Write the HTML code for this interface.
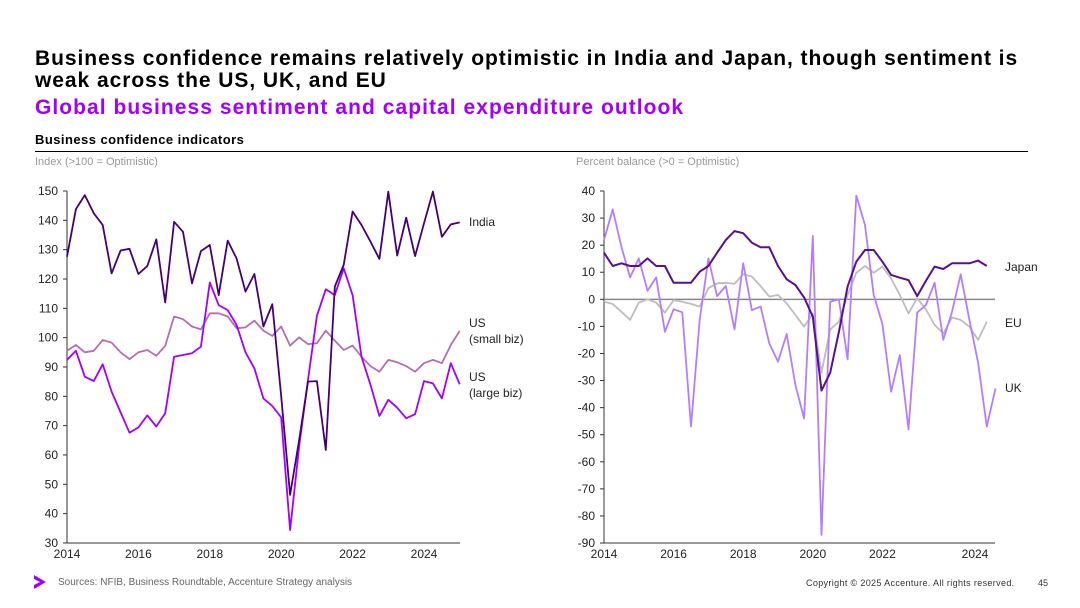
<!DOCTYPE html>
<html><head><meta charset="utf-8"><style>
body{margin:0;width:1080px;height:608px;background:#fff;font-family:"Liberation Sans",sans-serif;position:relative;overflow:hidden}
.t{position:absolute;white-space:nowrap}
</style></head><body>
<div class="t" style="left:35px;top:48px;font-size:21px;font-weight:bold;line-height:22px;color:#000;letter-spacing:0.95px">Business confidence remains relatively optimistic in India and Japan, though sentiment is<br>weak across the US, UK, and EU</div>
<div class="t" style="left:35px;top:96px;font-size:21px;font-weight:bold;color:#a100ff;letter-spacing:1.05px">Global business sentiment and capital expenditure outlook</div>
<div class="t" style="left:35px;top:132px;font-size:13px;font-weight:bold;color:#000;letter-spacing:0.45px">Business confidence indicators</div>
<div style="position:absolute;left:35px;top:151px;width:993px;height:1px;background:#000"></div>
<div class="t" style="left:35px;top:156px;font-size:11px;color:#999">Index (&gt;100 = Optimistic)</div>
<div class="t" style="left:576px;top:156px;font-size:11px;color:#999">Percent balance (&gt;0 = Optimistic)</div>
<svg id="c" width="1080" height="608" style="position:absolute;left:0;top:0"></svg>
<svg width="14" height="18" style="position:absolute;left:33px;top:574px"><path d="M1 1 L13 8 L1 15 L1 11 L7 8 L1 5Z" fill="#a100ff"/></svg>
<div class="t" style="left:58px;top:577px;font-size:10px;color:#666">Sources: NFIB, Business Roundtable, Accenture Strategy analysis</div>
<div class="t" style="left:806px;top:578px;font-size:9px;color:#333;letter-spacing:0.35px">Copyright © 2025 Accenture. All rights reserved.</div>
<div class="t" style="left:1038px;top:578px;font-size:9px;color:#333">45</div>
<script>
const india=[127.6,143.8,148.6,142.4,138.4,121.9,129.7,130.3,121.7,124.4,133.5,112,139.5,136.1,118.5,129.5,131.6,114.5,133.1,127,115.7,121.7,103.8,111.4,80,46.4,65,85,85.2,61.7,117.4,124.8,143,138.4,132.7,126.8,149.8,128,140.9,127.8,139,149.8,134.4,138.6,139.3];
const usSmall=[95.5,97.5,95,95.5,99.2,98.3,95,92.7,95,95.8,93.8,97.2,107.2,106.3,103.8,102.8,108.3,108.3,107.2,103.2,103.5,105.8,102.4,100.6,103.8,97.3,100.1,97.8,98.1,102.4,99,95.8,97.3,93.5,90.3,88.4,92.4,91.6,90.3,88.4,91.3,92.4,91.3,97.5,102.3];
const usLarge=[92.4,95.5,86.7,85.2,90.9,81.6,74.5,67.6,69.4,73.5,69.7,74.2,93.5,94.1,94.7,96.9,118.8,111.1,109.4,104.3,95,89.5,79.3,76.7,72.8,34.4,62.8,85.6,107.4,116.5,114.5,123.6,114.5,93.5,83.9,73.3,78.8,76.1,72.5,73.9,85.2,84.4,79.3,91.3,84.1];
const japan=[17.2,12.3,13.3,12.3,12.3,15.1,12.3,12.3,6.1,6.1,6.1,10.2,12.3,17.2,21.9,25.2,24.4,20.9,19.2,19.2,12.3,7.4,5.3,0.7,-6.4,-33.7,-27.1,-12,4.7,13.9,18.2,18.2,13.9,9,8,7.1,1.2,6.8,12.1,11.2,13.3,13.3,13.3,14.3,12.3];
const eu=[-0.9,-1.7,-4.6,-7.6,-1.2,0,-1.2,-4.9,-0.3,-0.9,-1.7,-2.7,4.1,5.9,6.1,5.7,9.3,8.4,4.9,1,1.6,-1.5,-5.8,-10.1,-5.2,-27.1,-11.1,-8.3,1.6,9.8,12.3,9.8,12.1,7.7,1.6,-5.2,0.4,-3.7,-9.5,-12.6,-6.7,-7.6,-10.1,-15,-8.3];
const uk=[21.9,33.2,19.4,8.1,15.1,3.2,8.1,-12,-3.7,-4.8,-47,-7.6,15.1,1.2,4.9,-11.1,13.3,-4,-2.7,-16.3,-23,-12.8,-31.6,-44,23.4,-87,-0.9,0,-22.2,38.3,27.4,1.6,-9.1,-34.1,-20.6,-48,-4.9,-2.1,6.1,-15,-4.6,9.2,-7.6,-23.4,-47,-32.9];
const leftTicks=[30,40,50,60,70,80,90,100,110,120,130,140,150];
const rightTicks=[-90,-80,-70,-60,-50,-40,-30,-20,-10,0,10,20,30,40];
const leftYears=[2014,2016,2018,2020,2022,2024];
const rightYears=[2014,2016,2018,2020,2022,2024];
const NS='http://www.w3.org/2000/svg';
const svg=document.getElementById('c');
function mk(tag,attrs,name,txt){const e=document.createElementNS(NS,tag);for(const k in attrs)e.setAttribute(k,attrs[k]);


if(txt!==undefined)e.textContent=txt;svg.appendChild(e);return e;}
const lx=y=>67+(y-2014)*35.7, ly=v=>191+(150-v)*2.933;
const rx=y=>604+(y-2014)*34.8, ry=v=>191+(40-v)*2.708;
function axis(x0,x1,yf,ticks,xf,years,pre,labOff){
 mk('line',{x1:x0,y1:191,x2:x0,y2:543,stroke:'#333','stroke-width':1},pre+'-y-axis');
 mk('line',{x1:x0,y1:543,x2:x1,y2:543,stroke:'#333','stroke-width':1},pre+'-x-axis');
 ticks.forEach(t=>{const y=yf(t);mk('line',{x1:x0-4,y1:y,x2:x0,y2:y,stroke:'#333'},pre+'-y-tick');
  mk('text',{x:x0-9,y:y+4,'text-anchor':'end','font-size':12,fill:'#222','font-family':'Liberation Sans'},pre+'-y-tick-label',String(t));});
 years.forEach((yr,i)=>{mk('text',{x:xf(yr)+(labOff?labOff[i]:0),y:558,'text-anchor':'middle','font-size':12,fill:'#222','font-family':'Liberation Sans'},pre+'-x-tick-label',String(yr));});
}
axis(67,460,ly,leftTicks,lx,leftYears,'left');
axis(604,995,ry,rightTicks,rx,rightYears,'right',[0,0,0,0,0,23]);
mk('line',{x1:604,y1:ry(0),x2:995,y2:ry(0),stroke:'#888','stroke-width':1.5},'zero-line');
function line(data,xf,yf,color,name,w){const d=data.map((v,i)=>(i?'L':'M')+xf(2014+i/4).toFixed(1)+' '+yf(v).toFixed(1)).join(' ');
 mk('path',{d:d,fill:'none',stroke:color,'stroke-width':w||1.8,'stroke-linejoin':'round'},name);}
line(usSmall,lx,ly,'#b46fb0','line-us-small-biz');
line(usLarge,lx,ly,'#a100ff','line-us-large-biz');
line(india,lx,ly,'#460073','line-india');
line(eu,rx,ry,'#bdbdbd','line-eu');
line(uk,rx,ry,'#b47dff','line-uk');
line(japan,rx,ry,'#5a0f8c','line-japan',2);
const lab=(x,y,t,n)=>mk('text',{x:x,y:y,'font-size':12,fill:'#222','font-family':'Liberation Sans'},n,t);
lab(469,226,'India','label-india');
lab(469,327,'US','label-us-small');lab(469,343,'(small biz)','label-us-small-2');
lab(469,381,'US','label-us-large');lab(469,397,'(large biz)','label-us-large-2');
lab(1005,271,'Japan','label-japan');lab(1005,327,'EU','label-eu');lab(1005,392,'UK','label-uk');
</script>
</body></html>
